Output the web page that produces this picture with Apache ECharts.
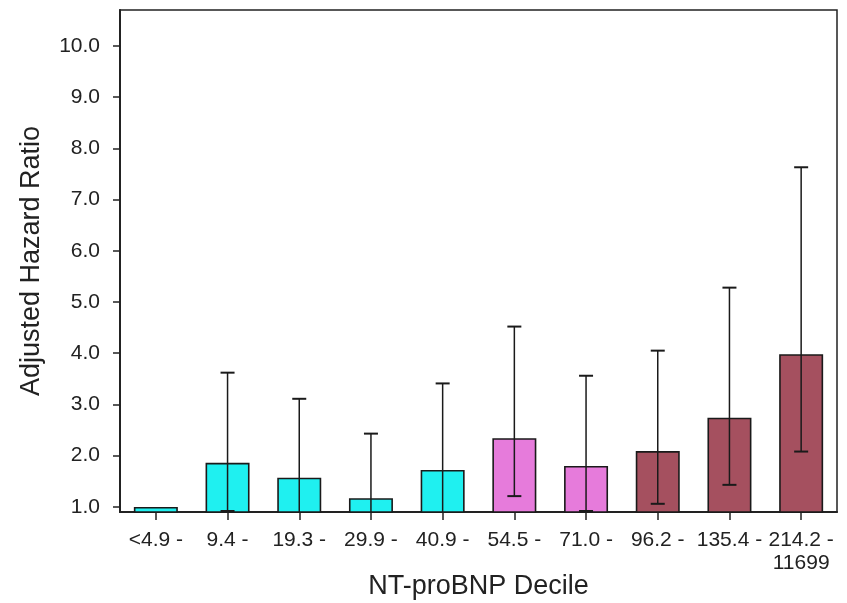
<!DOCTYPE html>
<html>
<head>
<meta charset="utf-8">
<script src="https://cdn.jsdelivr.net/npm/echarts@6/dist/echarts.min.js"></script>
<style>
  html, body { margin: 0; padding: 0; background: #fff; }
  #chart { width: 847px; height: 603px; }
</style>
</head>
<body>
<div id="chart"></div>
<script>
const categories = ['<4.9 -', '9.4 -', '19.3 -', '29.9 -', '40.9 -', '54.5 -', '71.0 -', '96.2 -', '135.4 -', '214.2 -\n11699'];
const hazardRatio = [1.0, 1.86, 1.57, 1.17, 1.72, 2.34, 1.80, 2.09, 2.74, 3.98];
const ciLower = [1.0, 0.92, 0.85, 0.85, 0.85, 1.21, 0.92, 1.06, 1.43, 2.08];
const ciUpper = [1.0, 3.62, 3.11, 2.43, 3.41, 4.52, 3.56, 4.05, 5.28, 7.63];
const groups = ['low', 'low', 'low', 'low', 'low', 'mid', 'mid', 'high', 'high', 'high'];
const yTicks = [1, 2, 3, 4, 5, 6, 7, 8, 9, 10];

const groupColors = { low: '#1ff0f0', mid: '#e67bdb', high: '#a5505f' };
const Y_MIN = 0.9, Y_MAX = 10.7;
const FONT = '"Liberation Sans", Arial, sans-serif';

const chart = echarts.init(document.getElementById('chart'), null, { renderer: 'canvas' });

const barData = hazardRatio.map((v, i) => ({
  value: v,
  itemStyle: { color: groupColors[groups[i]] }
}));
const errData = categories.map((c, i) => [i, ciLower[i], ciUpper[i]]);

chart.setOption({
  animation: false,
  backgroundColor: '#fff',
  grid: {
    left: 120, right: 10, top: 10, bottom: 91,
    containLabel: false,
    outerBoundsMode: 'none',
    show: true, borderColor: '#222', borderWidth: 1.5, backgroundColor: 'transparent'
  },
  xAxis: {
    type: 'category',
    data: categories,
    name: 'NT-proBNP Decile',
    nameLocation: 'middle',
    nameGap: 61,
    nameMoveOverlap: false,
    nameTextStyle: { fontFamily: FONT, fontSize: 27, color: '#222' },
    axisLine: { show: true, lineStyle: { color: '#222', width: 2 } },
    axisTick: { show: true, alignWithLabel: true, length: 8, lineStyle: { color: '#222', width: 1.5 } },
    axisLabel: { fontFamily: FONT, fontSize: 21, color: '#222', margin: 17, interval: 0, lineHeight: 23 },
    splitLine: { show: false }
  },
  yAxis: {
    type: 'value',
    min: Y_MIN,
    max: Y_MAX,
    name: 'Adjusted Hazard Ratio',
    nameLocation: 'middle',
    nameGap: 75,
    nameMoveOverlap: false,
    nameTextStyle: { fontFamily: FONT, fontSize: 27, color: '#222' },
    axisLine: { show: true, lineStyle: { color: '#222', width: 2 } },
    axisTick: { show: true, length: 7, customValues: yTicks, lineStyle: { color: '#222', width: 1.5 } },
    axisLabel: {
      fontFamily: FONT, fontSize: 21, color: '#222', margin: 20,
      customValues: yTicks,
      formatter: v => Number(v).toFixed(1)
    },
    splitLine: { show: false }
  },
  series: [
    {
      type: 'bar',
      data: barData,
      barWidth: 44,
      itemStyle: { borderColor: '#1a1a1a', borderWidth: 1.6 },
      z: 2
    },
    {
      type: 'custom',
      data: errData,
      z: 3,
      renderItem: function (params, api) {
        const idx = api.value(0);
        const lo = api.value(1);
        const hi = api.value(2);
        if (hi === lo) return { type: 'group', children: [] };
        const top = api.coord([idx, hi]);
        const bottomY = params.coordSys.y + params.coordSys.height;
        const bot = api.coord([idx, lo]);
        const loVisible = lo >= Y_MIN;
        const botY = loVisible ? bot[1] : bottomY;
        const x = top[0];
        const hw = 7;
        const children = [
          { type: 'line', shape: { x1: x, y1: top[1], x2: x, y2: botY }, style: { stroke: '#1a1a1a', lineWidth: 1.5 } },
          { type: 'line', shape: { x1: x - hw, y1: top[1], x2: x + hw, y2: top[1] }, style: { stroke: '#1a1a1a', lineWidth: 2 } }
        ];
        if (loVisible) {
          children.push({ type: 'line', shape: { x1: x - hw, y1: botY, x2: x + hw, y2: botY }, style: { stroke: '#1a1a1a', lineWidth: 2 } });
        }
        return { type: 'group', children: children };
      }
    }
  ]
});
</script>
</body>
</html>
